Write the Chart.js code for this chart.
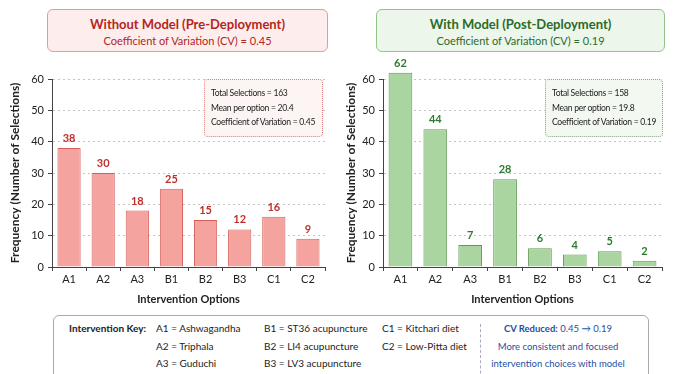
<!DOCTYPE html>
<html>
<head>
<meta charset="utf-8">
<script src="https://cdn.jsdelivr.net/npm/chart.js@4/dist/chart.umd.min.js"></script>
<style>
  body { margin: 0; background: #fff; font-family: Lato, "Open Sans", sans-serif; }
  #wrap { position: relative; width: 673px; height: 374px; overflow: hidden; }
  .cv { position: absolute; top: 56px; height: 254px; }
  .titlebox { position: absolute; top: 9px; height: 43px; border-radius: 6px; text-align: center; box-sizing: border-box; }
  .titlebox .t1 { font-weight: bold; font-size: 13px; margin-top: 6px; }
  .titlebox .t2 { font-size: 11px; margin-top: 2px; }
  .stats { position: absolute; top: 79px; height: 58px; border-radius: 4px; box-sizing: border-box; font-size: 8.6px; letter-spacing: -0.3px; white-space: nowrap; color: #222; padding: 6px 0 0 6px; line-height: 14.5px; }
  #key { position: absolute; left: 53px; top: 315px; width: 596px; height: 70px; border: 1px solid #aaa; border-radius: 6px; box-sizing: border-box; font-size: 10px; color: #222; }
  #key .col { position: absolute; top: 4px; line-height: 17.5px; white-space: nowrap; }
  #key .sep { position: absolute; left: 426px; top: 8px; height: 60px; border-left: 1px dashed #aab; }
  #key .cvr { position: absolute; left: 432px; width: 144px; top: 4px; text-align: center; color: #1f4fa0; line-height: 17.5px; white-space: nowrap; font-size: 9.5px; }
</style>
</head>
<body>
<div id="wrap">
  <canvas id="chartPre" class="cv" width="336" height="254" style="left:0;width:336px"></canvas>
  <canvas id="chartPost" class="cv" width="337" height="254" style="left:336px;width:337px"></canvas>

  <div class="titlebox" style="left:47px;width:281px;background:#fdeded;border:1px solid #e59a9a;color:#b3261e">
    <div class="t1">Without Model (Pre-Deployment)</div>
    <div class="t2">Coefficient of Variation (CV) = 0.45</div>
  </div>
  <div class="titlebox" style="left:376px;width:289px;background:#edf6ea;border:1px solid #93c48a;color:#2b6b2b">
    <div class="t1">With Model (Post-Deployment)</div>
    <div class="t2">Coefficient of Variation (CV) = 0.19</div>
  </div>

  <div class="stats" style="left:204px;width:119px;background:#fdf4f4;border:1px dotted #dd7f7f">
    <div>Total Selections = 163</div>
    <div>Mean per option = 20.4</div>
    <div>Coefficient of Variation = 0.45</div>
  </div>
  <div class="stats" style="left:545px;width:118px;background:#f3f8f1;border:1px dotted #8aa688">
    <div>Total Selections = 158</div>
    <div>Mean per option = 19.8</div>
    <div>Coefficient of Variation = 0.19</div>
  </div>

  <div id="key">
    <div class="col" style="left:15px;font-weight:bold">Intervention Key:</div>
    <div class="col" style="left:102px">A1 = Ashwagandha<br>A2 = Triphala<br>A3 = Guduchi</div>
    <div class="col" style="left:210px">B1 = ST36 acupuncture<br>B2 = LI4 acupuncture<br>B3 = LV3 acupuncture</div>
    <div class="col" style="left:328px">C1 = Kitchari diet<br>C2 = Low-Pitta diet</div>
    <div class="sep"></div>
    <div class="cvr"><b>CV Reduced:</b> 0.45 → 0.19<br>More consistent and focused<br>intervention choices with model</div>
  </div>
</div>

<script>
const options = ['A1', 'A2', 'A3', 'B1', 'B2', 'B3', 'C1', 'C2'];
const preCounts = [38, 30, 18, 25, 15, 12, 16, 9];
const postCounts = [62, 44, 7, 28, 6, 4, 5, 2];
const yTicks = [0, 10, 20, 30, 40, 50, 60];

const FONT = 'Lato, "Open Sans", sans-serif';

// draws the count above each bar
const valueLabels = {
  id: 'valueLabels',
  afterDatasetsDraw(chart) {
    const ctx = chart.ctx;
    const ds = chart.data.datasets[0];
    const meta = chart.getDatasetMeta(0);
    ctx.save();
    ctx.font = 'bold 11px ' + FONT;
    ctx.fillStyle = ds.labelColor;
    ctx.textAlign = 'center';
    ctx.textBaseline = 'bottom';
    meta.data.forEach((bar, i) => {
      ctx.fillText(String(ds.data[i]), bar.x, bar.y - 4);
    });
    ctx.restore();
  }
};

function makeChart(id, data, fill, border, labelColor, yWidth) {
  const ctx = document.getElementById(id).getContext('2d');
  return new Chart(ctx, {
    type: 'bar',
    data: {
      labels: options,
      datasets: [{
        data: data,
        backgroundColor: fill,
        borderColor: border,
        borderWidth: 1,
        barPercentage: 0.68,
        categoryPercentage: 1,
        clip: false,
        labelColor: labelColor
      }]
    },
    options: {
      responsive: false,
      animation: false,
      devicePixelRatio: 1,
      layout: { padding: { top: 23, right: 11, left: 0, bottom: 0 } },
      plugins: { legend: { display: false }, tooltip: { enabled: false } },
      scales: {
        x: {
          afterFit: s => { s.height = 43; },
          grid: { drawOnChartArea: false, tickLength: 4, tickColor: '#444' },
          border: { color: '#444', width: 1 },
          ticks: { color: '#222', padding: 2, font: { family: FONT, size: 11 } },
          title: { display: true, text: 'Intervention Options', color: '#222', padding: { top: 3 }, font: { family: FONT, size: 11, weight: 'bold' } }
        },
        y: {
          min: 0,
          max: 60,
          afterFit: s => { s.width = yWidth; },
          afterBuildTicks: s => { s.ticks = yTicks.map(v => ({ value: v })); },
          grid: { color: '#c4c4c4', tickLength: 4, tickColor: '#444', lineWidth: 1 },
          border: { color: '#444', width: 1, dash: [2, 3] },
          ticks: { color: '#222', padding: 4, font: { family: FONT, size: 11 } },
          title: { display: true, text: 'Frequency (Number of Selections)', color: '#222', padding: { top: 8, bottom: 0 }, font: { family: FONT, size: 12, weight: 'bold' } }
        }
      }
    },
    plugins: [valueLabels]
  });
}

makeChart('chartPre', preCounts, '#f5a39f', '#d4605a', '#c0302a', 52);
makeChart('chartPost', postCounts, '#aad5a0', '#5d9b53', '#2e7a30', 47);
</script>
</body>
</html>
